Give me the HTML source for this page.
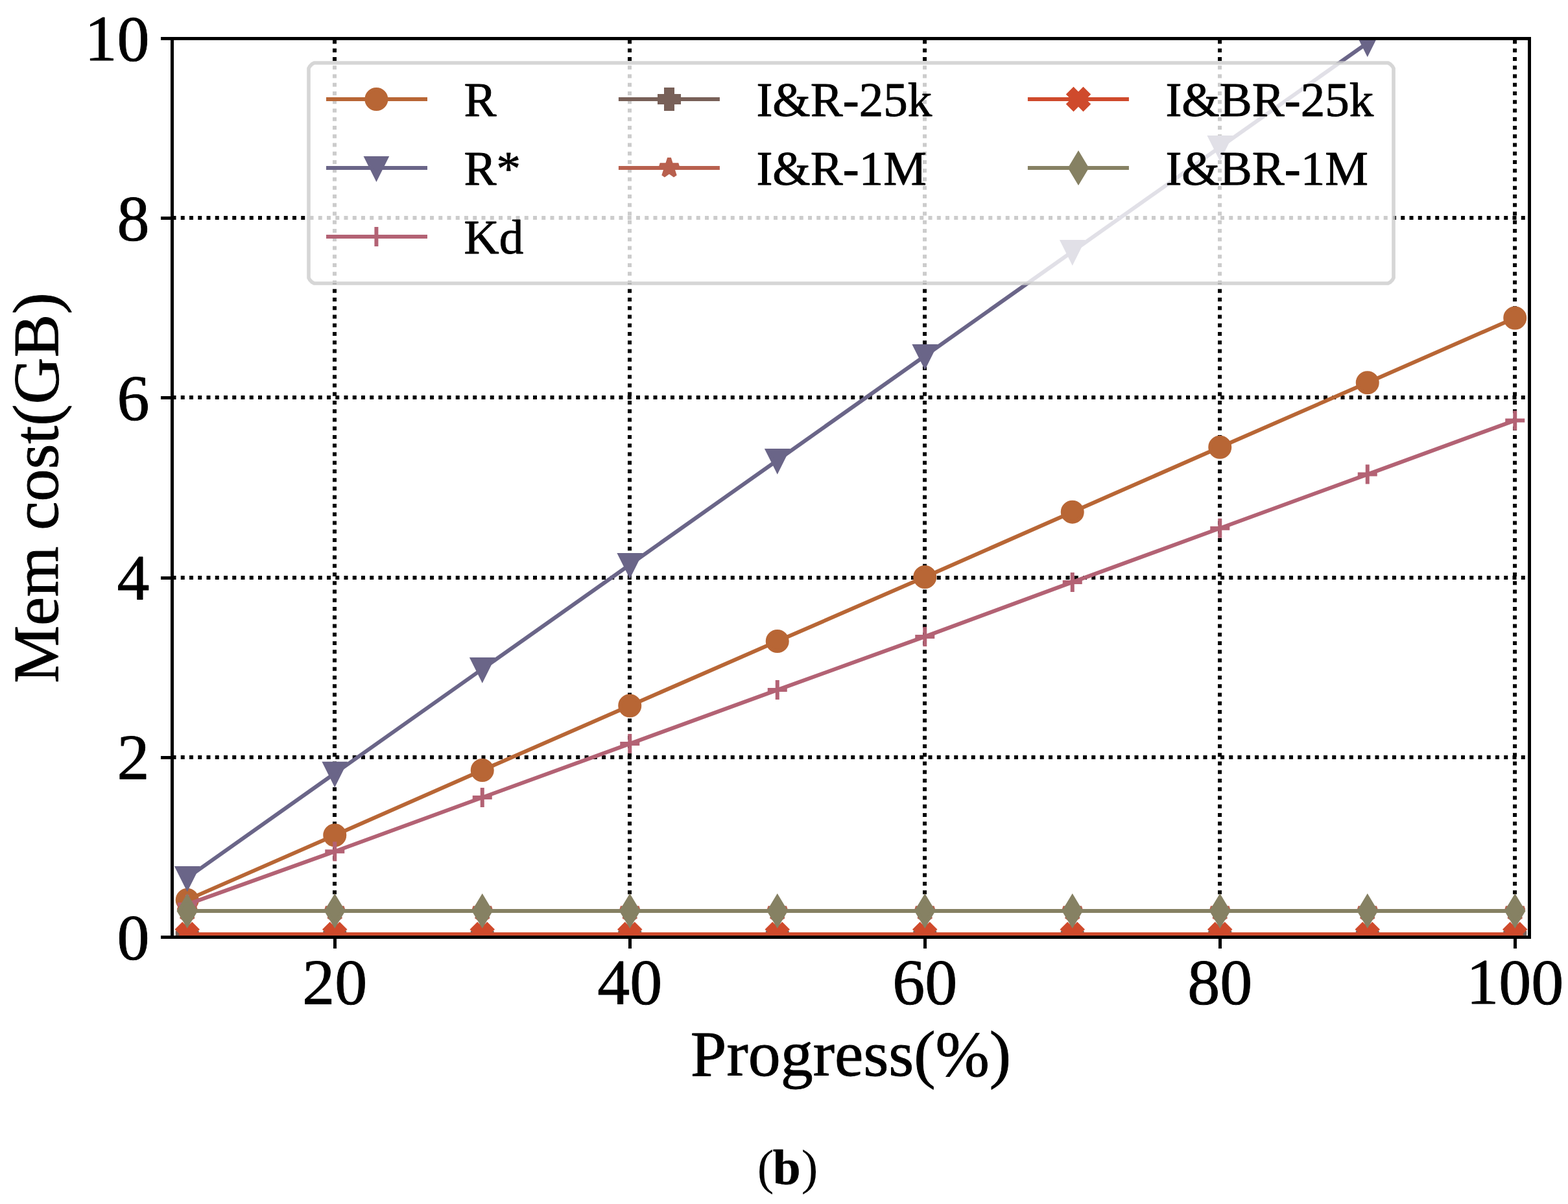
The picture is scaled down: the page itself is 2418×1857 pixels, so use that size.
<!DOCTYPE html>
<html lang="en">
<head>
<meta charset="utf-8">
<title>Mem cost vs Progress (b)</title>
<style>
html,body{margin:0;padding:0;background:#fff;}
body{width:2418px;height:1857px;overflow:hidden;}
svg{display:block;}
text{font-family:'Liberation Serif', serif;fill:#000;stroke:#000;stroke-linejoin:round;}
.tick{font-size:100px;stroke-width:0.9px;}
.lab{font-size:100px;stroke-width:0.9px;}
.leg{font-size:75px;stroke-width:0.9px;}
</style>
</head>
<body>
<svg width="2418" height="1857" viewBox="0 0 2418 1857">
<rect x="0" y="0" width="2418" height="1857" fill="#ffffff"/>
<defs><clipPath id="ax"><rect x="265.5" y="59.5" width="2093" height="1386"/></clipPath></defs>

<g stroke="#000" stroke-width="6" stroke-dasharray="6 7.25" fill="none" clip-path="url(#ax)">
<path d="M516 1445.5V59.5"/>
<path d="M971 1445.5V59.5"/>
<path d="M1426 1445.5V59.5"/>
<path d="M1881 1445.5V59.5"/>
<path d="M2336 1445.5V59.5"/>
<path d="M265.5 1168H2358.5"/>
<path d="M265.5 891H2358.5"/>
<path d="M265.5 613H2358.5"/>
<path d="M265.5 336H2358.5"/>
</g>
<g clip-path="url(#ax)">
<path d="M288.75 1387.9L516.25 1288.19L743.75 1187.98L971.25 1088.4L1198.75 989.09L1426.25 889.99L1653.75 789.64L1881.25 689.85L2108.75 590.2L2336.25 490.41" fill="none" stroke="#b86635" stroke-width="6" stroke-linejoin="round" stroke-linecap="square"/>
<circle cx="288.75" cy="1387.9" r="15" fill="#b86635" stroke="#b86635" stroke-width="6"/>
<circle cx="516.25" cy="1288.19" r="15" fill="#b86635" stroke="#b86635" stroke-width="6"/>
<circle cx="743.75" cy="1187.98" r="15" fill="#b86635" stroke="#b86635" stroke-width="6"/>
<circle cx="971.25" cy="1088.4" r="15" fill="#b86635" stroke="#b86635" stroke-width="6"/>
<circle cx="1198.75" cy="989.09" r="15" fill="#b86635" stroke="#b86635" stroke-width="6"/>
<circle cx="1426.25" cy="889.99" r="15" fill="#b86635" stroke="#b86635" stroke-width="6"/>
<circle cx="1653.75" cy="789.64" r="15" fill="#b86635" stroke="#b86635" stroke-width="6"/>
<circle cx="1881.25" cy="689.85" r="15" fill="#b86635" stroke="#b86635" stroke-width="6"/>
<circle cx="2108.75" cy="590.2" r="15" fill="#b86635" stroke="#b86635" stroke-width="6"/>
<circle cx="2336.25" cy="490.41" r="15" fill="#b86635" stroke="#b86635" stroke-width="6"/>
<path d="M288.75 1353.89L516.25 1192.83L743.75 1031.92L971.25 870.93L1198.75 709.95L1426.25 548.97L1653.75 387.98L1881.25 227L2108.75 66.29L2336.25 -94.97" fill="none" stroke="#6a6588" stroke-width="6" stroke-linejoin="round" stroke-linecap="square"/>
<path d="M288.75 1368.89L273.75 1338.89L303.75 1338.89Z" fill="#6a6588" stroke="#6a6588" stroke-width="6" stroke-linejoin="miter"/>
<path d="M516.25 1207.83L501.25 1177.83L531.25 1177.83Z" fill="#6a6588" stroke="#6a6588" stroke-width="6" stroke-linejoin="miter"/>
<path d="M743.75 1046.92L728.75 1016.92L758.75 1016.92Z" fill="#6a6588" stroke="#6a6588" stroke-width="6" stroke-linejoin="miter"/>
<path d="M971.25 885.93L956.25 855.93L986.25 855.93Z" fill="#6a6588" stroke="#6a6588" stroke-width="6" stroke-linejoin="miter"/>
<path d="M1198.75 724.95L1183.75 694.95L1213.75 694.95Z" fill="#6a6588" stroke="#6a6588" stroke-width="6" stroke-linejoin="miter"/>
<path d="M1426.25 563.97L1411.25 533.97L1441.25 533.97Z" fill="#6a6588" stroke="#6a6588" stroke-width="6" stroke-linejoin="miter"/>
<path d="M1653.75 402.98L1638.75 372.98L1668.75 372.98Z" fill="#6a6588" stroke="#6a6588" stroke-width="6" stroke-linejoin="miter"/>
<path d="M1881.25 242L1866.25 212L1896.25 212Z" fill="#6a6588" stroke="#6a6588" stroke-width="6" stroke-linejoin="miter"/>
<path d="M2108.75 81.29L2093.75 51.29L2123.75 51.29Z" fill="#6a6588" stroke="#6a6588" stroke-width="6" stroke-linejoin="miter"/>
<path d="M2336.25 -79.97L2321.25 -109.97L2351.25 -109.97Z" fill="#6a6588" stroke="#6a6588" stroke-width="6" stroke-linejoin="miter"/>
<path d="M288.75 1394.91L516.25 1313.28L743.75 1229.98L971.25 1147.09L1198.75 1064.07L1426.25 981.88L1653.75 897.89L1881.25 814.73L2108.75 731.57L2336.25 648.41" fill="none" stroke="#b36274" stroke-width="6" stroke-linejoin="round" stroke-linecap="square"/>
<path d="M273.75 1394.91H303.75M288.75 1379.91V1409.91" fill="none" stroke="#b36274" stroke-width="6"/>
<path d="M501.25 1313.28H531.25M516.25 1298.28V1328.28" fill="none" stroke="#b36274" stroke-width="6"/>
<path d="M728.75 1229.98H758.75M743.75 1214.98V1244.98" fill="none" stroke="#b36274" stroke-width="6"/>
<path d="M956.25 1147.09H986.25M971.25 1132.09V1162.09" fill="none" stroke="#b36274" stroke-width="6"/>
<path d="M1183.75 1064.07H1213.75M1198.75 1049.07V1079.07" fill="none" stroke="#b36274" stroke-width="6"/>
<path d="M1411.25 981.88H1441.25M1426.25 966.88V996.88" fill="none" stroke="#b36274" stroke-width="6"/>
<path d="M1638.75 897.89H1668.75M1653.75 882.89V912.89" fill="none" stroke="#b36274" stroke-width="6"/>
<path d="M1866.25 814.73H1896.25M1881.25 799.73V829.73" fill="none" stroke="#b36274" stroke-width="6"/>
<path d="M2093.75 731.57H2123.75M2108.75 716.57V746.57" fill="none" stroke="#b36274" stroke-width="6"/>
<path d="M2321.25 648.41H2351.25M2336.25 633.41V663.41" fill="none" stroke="#b36274" stroke-width="6"/>
<path d="M288.75 1443.7L516.25 1443.7L743.75 1443.7L971.25 1443.7L1198.75 1443.7L1426.25 1443.7L1653.75 1443.7L1881.25 1443.7L2108.75 1443.7L2336.25 1443.7" fill="none" stroke="#786058" stroke-width="6" stroke-linejoin="round" stroke-linecap="square"/>
<path d="M283.75 1428.7L293.75 1428.7L293.75 1438.7L303.75 1438.7L303.75 1448.7L293.75 1448.7L293.75 1458.7L283.75 1458.7L283.75 1448.7L273.75 1448.7L273.75 1438.7L283.75 1438.7Z" fill="#786058" stroke="#786058" stroke-width="6" stroke-linejoin="miter"/>
<path d="M511.25 1428.7L521.25 1428.7L521.25 1438.7L531.25 1438.7L531.25 1448.7L521.25 1448.7L521.25 1458.7L511.25 1458.7L511.25 1448.7L501.25 1448.7L501.25 1438.7L511.25 1438.7Z" fill="#786058" stroke="#786058" stroke-width="6" stroke-linejoin="miter"/>
<path d="M738.75 1428.7L748.75 1428.7L748.75 1438.7L758.75 1438.7L758.75 1448.7L748.75 1448.7L748.75 1458.7L738.75 1458.7L738.75 1448.7L728.75 1448.7L728.75 1438.7L738.75 1438.7Z" fill="#786058" stroke="#786058" stroke-width="6" stroke-linejoin="miter"/>
<path d="M966.25 1428.7L976.25 1428.7L976.25 1438.7L986.25 1438.7L986.25 1448.7L976.25 1448.7L976.25 1458.7L966.25 1458.7L966.25 1448.7L956.25 1448.7L956.25 1438.7L966.25 1438.7Z" fill="#786058" stroke="#786058" stroke-width="6" stroke-linejoin="miter"/>
<path d="M1193.75 1428.7L1203.75 1428.7L1203.75 1438.7L1213.75 1438.7L1213.75 1448.7L1203.75 1448.7L1203.75 1458.7L1193.75 1458.7L1193.75 1448.7L1183.75 1448.7L1183.75 1438.7L1193.75 1438.7Z" fill="#786058" stroke="#786058" stroke-width="6" stroke-linejoin="miter"/>
<path d="M1421.25 1428.7L1431.25 1428.7L1431.25 1438.7L1441.25 1438.7L1441.25 1448.7L1431.25 1448.7L1431.25 1458.7L1421.25 1458.7L1421.25 1448.7L1411.25 1448.7L1411.25 1438.7L1421.25 1438.7Z" fill="#786058" stroke="#786058" stroke-width="6" stroke-linejoin="miter"/>
<path d="M1648.75 1428.7L1658.75 1428.7L1658.75 1438.7L1668.75 1438.7L1668.75 1448.7L1658.75 1448.7L1658.75 1458.7L1648.75 1458.7L1648.75 1448.7L1638.75 1448.7L1638.75 1438.7L1648.75 1438.7Z" fill="#786058" stroke="#786058" stroke-width="6" stroke-linejoin="miter"/>
<path d="M1876.25 1428.7L1886.25 1428.7L1886.25 1438.7L1896.25 1438.7L1896.25 1448.7L1886.25 1448.7L1886.25 1458.7L1876.25 1458.7L1876.25 1448.7L1866.25 1448.7L1866.25 1438.7L1876.25 1438.7Z" fill="#786058" stroke="#786058" stroke-width="6" stroke-linejoin="miter"/>
<path d="M2103.75 1428.7L2113.75 1428.7L2113.75 1438.7L2123.75 1438.7L2123.75 1448.7L2113.75 1448.7L2113.75 1458.7L2103.75 1458.7L2103.75 1448.7L2093.75 1448.7L2093.75 1438.7L2103.75 1438.7Z" fill="#786058" stroke="#786058" stroke-width="6" stroke-linejoin="miter"/>
<path d="M2331.25 1428.7L2341.25 1428.7L2341.25 1438.7L2351.25 1438.7L2351.25 1448.7L2341.25 1448.7L2341.25 1458.7L2331.25 1458.7L2331.25 1448.7L2321.25 1448.7L2321.25 1438.7L2331.25 1438.7Z" fill="#786058" stroke="#786058" stroke-width="6" stroke-linejoin="miter"/>
<path d="M288.75 1405L516.25 1405L743.75 1405L971.25 1405L1198.75 1405L1426.25 1405L1653.75 1405L1881.25 1405L2108.75 1405L2336.25 1405" fill="none" stroke="#b8604e" stroke-width="6" stroke-linejoin="round" stroke-linecap="square"/>
<path d="M288.75 1390L285.38 1400.37L274.48 1400.37L283.3 1406.77L279.93 1417.14L288.75 1410.73L297.57 1417.14L294.2 1406.77L303.02 1400.37L292.12 1400.37Z" fill="#b8604e" stroke="#b8604e" stroke-width="6" stroke-linejoin="bevel"/>
<path d="M516.25 1390L512.88 1400.37L501.98 1400.37L510.8 1406.77L507.43 1417.14L516.25 1410.73L525.07 1417.14L521.7 1406.77L530.52 1400.37L519.62 1400.37Z" fill="#b8604e" stroke="#b8604e" stroke-width="6" stroke-linejoin="bevel"/>
<path d="M743.75 1390L740.38 1400.37L729.48 1400.37L738.3 1406.77L734.93 1417.14L743.75 1410.73L752.57 1417.14L749.2 1406.77L758.02 1400.37L747.12 1400.37Z" fill="#b8604e" stroke="#b8604e" stroke-width="6" stroke-linejoin="bevel"/>
<path d="M971.25 1390L967.88 1400.37L956.98 1400.37L965.8 1406.77L962.43 1417.14L971.25 1410.73L980.07 1417.14L976.7 1406.77L985.52 1400.37L974.62 1400.37Z" fill="#b8604e" stroke="#b8604e" stroke-width="6" stroke-linejoin="bevel"/>
<path d="M1198.75 1390L1195.38 1400.37L1184.48 1400.37L1193.3 1406.77L1189.93 1417.14L1198.75 1410.73L1207.57 1417.14L1204.2 1406.77L1213.02 1400.37L1202.12 1400.37Z" fill="#b8604e" stroke="#b8604e" stroke-width="6" stroke-linejoin="bevel"/>
<path d="M1426.25 1390L1422.88 1400.37L1411.98 1400.37L1420.8 1406.77L1417.43 1417.14L1426.25 1410.73L1435.07 1417.14L1431.7 1406.77L1440.52 1400.37L1429.62 1400.37Z" fill="#b8604e" stroke="#b8604e" stroke-width="6" stroke-linejoin="bevel"/>
<path d="M1653.75 1390L1650.38 1400.37L1639.48 1400.37L1648.3 1406.77L1644.93 1417.14L1653.75 1410.73L1662.57 1417.14L1659.2 1406.77L1668.02 1400.37L1657.12 1400.37Z" fill="#b8604e" stroke="#b8604e" stroke-width="6" stroke-linejoin="bevel"/>
<path d="M1881.25 1390L1877.88 1400.37L1866.98 1400.37L1875.8 1406.77L1872.43 1417.14L1881.25 1410.73L1890.07 1417.14L1886.7 1406.77L1895.52 1400.37L1884.62 1400.37Z" fill="#b8604e" stroke="#b8604e" stroke-width="6" stroke-linejoin="bevel"/>
<path d="M2108.75 1390L2105.38 1400.37L2094.48 1400.37L2103.3 1406.77L2099.93 1417.14L2108.75 1410.73L2117.57 1417.14L2114.2 1406.77L2123.02 1400.37L2112.12 1400.37Z" fill="#b8604e" stroke="#b8604e" stroke-width="6" stroke-linejoin="bevel"/>
<path d="M2336.25 1390L2332.88 1400.37L2321.98 1400.37L2330.8 1406.77L2327.43 1417.14L2336.25 1410.73L2345.07 1417.14L2341.7 1406.77L2350.52 1400.37L2339.62 1400.37Z" fill="#b8604e" stroke="#b8604e" stroke-width="6" stroke-linejoin="bevel"/>
<path d="M288.75 1441L516.25 1441L743.75 1441L971.25 1441L1198.75 1441L1426.25 1441L1653.75 1441L1881.25 1441L2108.75 1441L2336.25 1441" fill="none" stroke="#cf4a2c" stroke-width="6" stroke-linejoin="round" stroke-linecap="square"/>
<path d="M281.25 1426L288.75 1433.5L296.25 1426L303.75 1433.5L296.25 1441L303.75 1448.5L296.25 1456L288.75 1448.5L281.25 1456L273.75 1448.5L281.25 1441L273.75 1433.5Z" fill="#cf4a2c" stroke="#cf4a2c" stroke-width="6" stroke-linejoin="miter"/>
<path d="M508.75 1426L516.25 1433.5L523.75 1426L531.25 1433.5L523.75 1441L531.25 1448.5L523.75 1456L516.25 1448.5L508.75 1456L501.25 1448.5L508.75 1441L501.25 1433.5Z" fill="#cf4a2c" stroke="#cf4a2c" stroke-width="6" stroke-linejoin="miter"/>
<path d="M736.25 1426L743.75 1433.5L751.25 1426L758.75 1433.5L751.25 1441L758.75 1448.5L751.25 1456L743.75 1448.5L736.25 1456L728.75 1448.5L736.25 1441L728.75 1433.5Z" fill="#cf4a2c" stroke="#cf4a2c" stroke-width="6" stroke-linejoin="miter"/>
<path d="M963.75 1426L971.25 1433.5L978.75 1426L986.25 1433.5L978.75 1441L986.25 1448.5L978.75 1456L971.25 1448.5L963.75 1456L956.25 1448.5L963.75 1441L956.25 1433.5Z" fill="#cf4a2c" stroke="#cf4a2c" stroke-width="6" stroke-linejoin="miter"/>
<path d="M1191.25 1426L1198.75 1433.5L1206.25 1426L1213.75 1433.5L1206.25 1441L1213.75 1448.5L1206.25 1456L1198.75 1448.5L1191.25 1456L1183.75 1448.5L1191.25 1441L1183.75 1433.5Z" fill="#cf4a2c" stroke="#cf4a2c" stroke-width="6" stroke-linejoin="miter"/>
<path d="M1418.75 1426L1426.25 1433.5L1433.75 1426L1441.25 1433.5L1433.75 1441L1441.25 1448.5L1433.75 1456L1426.25 1448.5L1418.75 1456L1411.25 1448.5L1418.75 1441L1411.25 1433.5Z" fill="#cf4a2c" stroke="#cf4a2c" stroke-width="6" stroke-linejoin="miter"/>
<path d="M1646.25 1426L1653.75 1433.5L1661.25 1426L1668.75 1433.5L1661.25 1441L1668.75 1448.5L1661.25 1456L1653.75 1448.5L1646.25 1456L1638.75 1448.5L1646.25 1441L1638.75 1433.5Z" fill="#cf4a2c" stroke="#cf4a2c" stroke-width="6" stroke-linejoin="miter"/>
<path d="M1873.75 1426L1881.25 1433.5L1888.75 1426L1896.25 1433.5L1888.75 1441L1896.25 1448.5L1888.75 1456L1881.25 1448.5L1873.75 1456L1866.25 1448.5L1873.75 1441L1866.25 1433.5Z" fill="#cf4a2c" stroke="#cf4a2c" stroke-width="6" stroke-linejoin="miter"/>
<path d="M2101.25 1426L2108.75 1433.5L2116.25 1426L2123.75 1433.5L2116.25 1441L2123.75 1448.5L2116.25 1456L2108.75 1448.5L2101.25 1456L2093.75 1448.5L2101.25 1441L2093.75 1433.5Z" fill="#cf4a2c" stroke="#cf4a2c" stroke-width="6" stroke-linejoin="miter"/>
<path d="M2328.75 1426L2336.25 1433.5L2343.75 1426L2351.25 1433.5L2343.75 1441L2351.25 1448.5L2343.75 1456L2336.25 1448.5L2328.75 1456L2321.25 1448.5L2328.75 1441L2321.25 1433.5Z" fill="#cf4a2c" stroke="#cf4a2c" stroke-width="6" stroke-linejoin="miter"/>
<path d="M288.75 1405L516.25 1405L743.75 1405L971.25 1405L1198.75 1405L1426.25 1405L1653.75 1405L1881.25 1405L2108.75 1405L2336.25 1405" fill="none" stroke="#868163" stroke-width="6" stroke-linejoin="round" stroke-linecap="square"/>
<path d="M288.75 1383.79L301.48 1405L288.75 1426.21L276.02 1405Z" fill="#868163" stroke="#868163" stroke-width="6" stroke-linejoin="miter"/>
<path d="M516.25 1383.79L528.98 1405L516.25 1426.21L503.52 1405Z" fill="#868163" stroke="#868163" stroke-width="6" stroke-linejoin="miter"/>
<path d="M743.75 1383.79L756.48 1405L743.75 1426.21L731.02 1405Z" fill="#868163" stroke="#868163" stroke-width="6" stroke-linejoin="miter"/>
<path d="M971.25 1383.79L983.98 1405L971.25 1426.21L958.52 1405Z" fill="#868163" stroke="#868163" stroke-width="6" stroke-linejoin="miter"/>
<path d="M1198.75 1383.79L1211.48 1405L1198.75 1426.21L1186.02 1405Z" fill="#868163" stroke="#868163" stroke-width="6" stroke-linejoin="miter"/>
<path d="M1426.25 1383.79L1438.98 1405L1426.25 1426.21L1413.52 1405Z" fill="#868163" stroke="#868163" stroke-width="6" stroke-linejoin="miter"/>
<path d="M1653.75 1383.79L1666.48 1405L1653.75 1426.21L1641.02 1405Z" fill="#868163" stroke="#868163" stroke-width="6" stroke-linejoin="miter"/>
<path d="M1881.25 1383.79L1893.98 1405L1881.25 1426.21L1868.52 1405Z" fill="#868163" stroke="#868163" stroke-width="6" stroke-linejoin="miter"/>
<path d="M2108.75 1383.79L2121.48 1405L2108.75 1426.21L2096.02 1405Z" fill="#868163" stroke="#868163" stroke-width="6" stroke-linejoin="miter"/>
<path d="M2336.25 1383.79L2348.98 1405L2336.25 1426.21L2323.52 1405Z" fill="#868163" stroke="#868163" stroke-width="6" stroke-linejoin="miter"/>
</g>
<rect x="265.5" y="59.5" width="2093" height="1386" fill="none" stroke="#000" stroke-width="5" stroke-linejoin="miter"/>
<g stroke="#000" stroke-width="5" fill="none">
<path d="M516.5 1445.5v17.5"/>
<path d="M971.5 1445.5v17.5"/>
<path d="M1426.5 1445.5v17.5"/>
<path d="M1881.5 1445.5v17.5"/>
<path d="M2336.5 1445.5v17.5"/>
<path d="M265.5 1445.5h-17.5"/>
<path d="M265.5 1168.5h-17.5"/>
<path d="M265.5 891.5h-17.5"/>
<path d="M265.5 613.5h-17.5"/>
<path d="M265.5 336.5h-17.5"/>
<path d="M265.5 59.5h-17.5"/>
</g>
<text class="tick" x="516.25" y="1548.2" text-anchor="middle">20</text>
<text class="tick" x="971.25" y="1548.2" text-anchor="middle">40</text>
<text class="tick" x="1426.25" y="1548.2" text-anchor="middle">60</text>
<text class="tick" x="1881.25" y="1548.2" text-anchor="middle">80</text>
<text class="tick" x="2336.25" y="1548.2" text-anchor="middle">100</text>
<text class="tick" x="230.5" y="1478.5" text-anchor="end">0</text>
<text class="tick" x="230.5" y="1201.3" text-anchor="end">2</text>
<text class="tick" x="230.5" y="924.1" text-anchor="end">4</text>
<text class="tick" x="230.5" y="646.9" text-anchor="end">6</text>
<text class="tick" x="230.5" y="369.7" text-anchor="end">8</text>
<text class="tick" x="230.5" y="92.5" text-anchor="end">10</text>
<text class="lab" x="1312" y="1659" text-anchor="middle">Progress(%)</text>
<text class="lab" transform="translate(88.5 752.5) rotate(-90)" text-anchor="middle">Mem cost(GB)</text>
<text y="1826" style="font-size:77px;stroke-width:0.6px"><tspan x="1167.8" style="stroke-width:0">(</tspan><tspan x="1191.7" style="font-weight:bold">b</tspan><tspan x="1235.8" style="stroke-width:0">)</tspan></text>
<path d="M2140.6 97L2143.8 98.8L2147.2 102.2L2149 105.4L2149 428.6L2147.2 431.8L2143.8 435.2L2140.6 437L484.4 437L481.2 435.2L477.8 431.8L476 428.6L476 105.4L477.8 102.2L481.2 98.8L484.4 97Z" fill="#ffffff" fill-opacity="0.8" stroke="#cccccc" stroke-opacity="0.8" stroke-width="5.6" stroke-linejoin="miter"/>
<path d="M506 153h150" fill="none" stroke="#b86635" stroke-width="6" stroke-linecap="square"/>
<circle cx="580.4" cy="153" r="15" fill="#b86635" stroke="#b86635" stroke-width="6"/>
<text class="leg" x="715.5" y="178.9">R</text>
<path d="M506 259h150" fill="none" stroke="#6a6588" stroke-width="6" stroke-linecap="square"/>
<path d="M580.4 274L565.4 244L595.4 244Z" fill="#6a6588" stroke="#6a6588" stroke-width="6" stroke-linejoin="miter"/>
<text class="leg" x="715.5" y="284.9">R*</text>
<path d="M506 365h150" fill="none" stroke="#b36274" stroke-width="6" stroke-linecap="square"/>
<path d="M565.4 365H595.4M580.4 350V380" fill="none" stroke="#b36274" stroke-width="6"/>
<text class="leg" x="715.5" y="390.9">Kd</text>
<path d="M956.9 153h150" fill="none" stroke="#786058" stroke-width="6" stroke-linecap="square"/>
<path d="M1027 138L1037 138L1037 148L1047 148L1047 158L1037 158L1037 168L1027 168L1027 158L1017 158L1017 148L1027 148Z" fill="#786058" stroke="#786058" stroke-width="6" stroke-linejoin="miter"/>
<text class="leg" x="1166.4" y="178.9">I&amp;R-25k</text>
<path d="M956.9 259h150" fill="none" stroke="#b8604e" stroke-width="6" stroke-linecap="square"/>
<path d="M1032 244L1028.63 254.36L1017.73 254.36L1026.55 260.77L1023.18 271.14L1032 264.73L1040.82 271.14L1037.45 260.77L1046.27 254.36L1035.37 254.36Z" fill="#b8604e" stroke="#b8604e" stroke-width="6" stroke-linejoin="bevel"/>
<text class="leg" x="1166.4" y="284.9">I&amp;R-1M</text>
<path d="M1587.9 153h150" fill="none" stroke="#cf4a2c" stroke-width="6" stroke-linecap="square"/>
<path d="M1655.5 138L1663 145.5L1670.5 138L1678 145.5L1670.5 153L1678 160.5L1670.5 168L1663 160.5L1655.5 168L1648 160.5L1655.5 153L1648 145.5Z" fill="#cf4a2c" stroke="#cf4a2c" stroke-width="6" stroke-linejoin="miter"/>
<text class="leg" x="1797.4" y="178.9">I&amp;BR-25k</text>
<path d="M1587.9 259h150" fill="none" stroke="#868163" stroke-width="6" stroke-linecap="square"/>
<path d="M1663 237.79L1675.73 259L1663 280.21L1650.27 259Z" fill="#868163" stroke="#868163" stroke-width="6" stroke-linejoin="miter"/>
<text class="leg" x="1797.4" y="284.9">I&amp;BR-1M</text>
</svg>
</body>
</html>
